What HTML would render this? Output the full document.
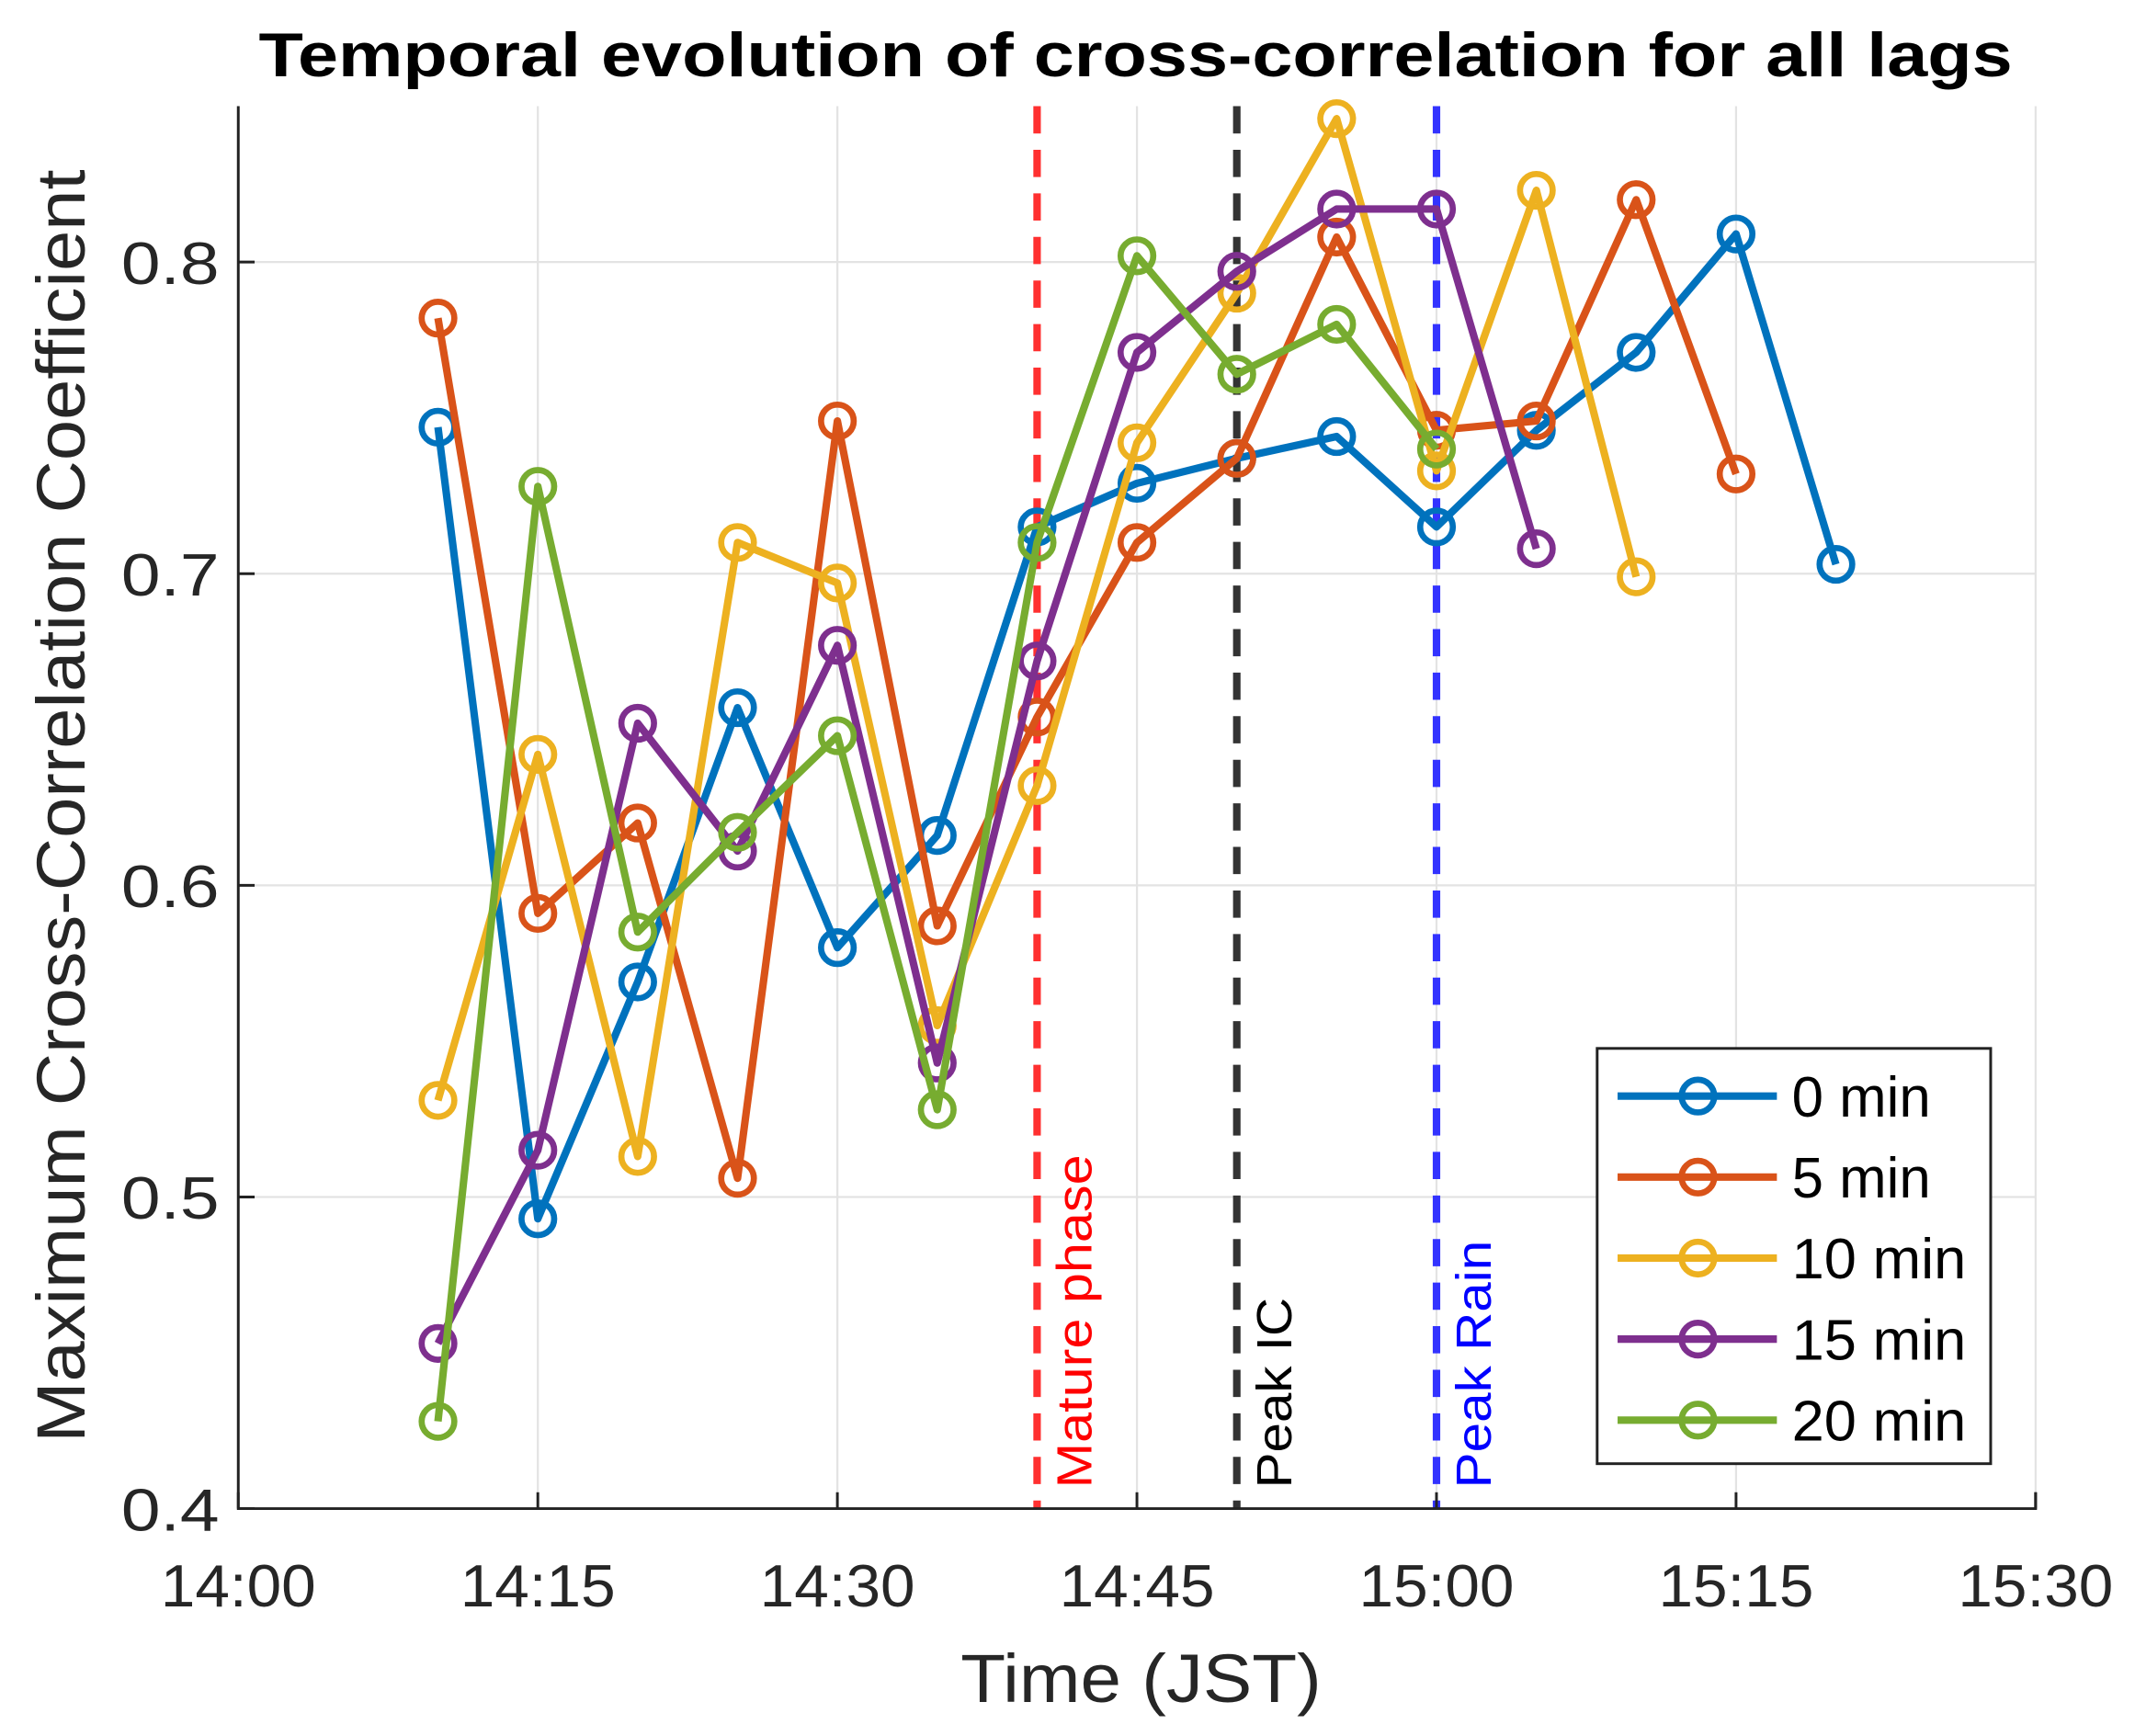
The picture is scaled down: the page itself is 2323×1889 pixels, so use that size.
<!DOCTYPE html>
<html><head><meta charset="utf-8"><style>html,body{margin:0;padding:0;background:#fff}svg{display:block}</style></head>
<body>
<svg id="chart" width="2323" height="1889" viewBox="0 0 1568 1275" preserveAspectRatio="none" xmlns="http://www.w3.org/2000/svg" font-family="Liberation Sans, Arial, sans-serif">
<g id="grid"></g><g id="vlines"></g><g id="series"></g><g id="axes"></g><g id="legend"></g>
</svg>
<script>
const times = [10,15,20,25,30,35,40,45,50,55,60,65,70,75,80];
const seriesNames = ["0 min","5 min","10 min","15 min","20 min"];
const lag0 = [0.747,0.493,0.569,0.657,0.580,0.616,0.715,0.729,0.737,0.744,0.715,0.746,0.771,0.809,0.703];
const lag5 = [0.782,0.591,0.620,0.506,0.749,0.587,0.654,0.710,0.737,0.808,0.746,0.749,0.820,0.732];
const lag10 = [0.531,0.642,0.513,0.710,0.697,0.555,0.632,0.742,0.790,0.846,0.733,0.823,0.699];
const lag15 = [0.453,0.515,0.652,0.611,0.677,0.543,0.672,0.771,0.797,0.817,0.817,0.708];
const lag20 = [0.428,0.728,0.585,0.617,0.648,0.528,0.710,0.802,0.764,0.780,0.740];
const colors = ["#0072BD","#D95319","#EDB120","#7E2F8E","#77AC30"];
const xTickVals = [0,15,30,45,60,75,90];
const xTickLabels = ["14:00","14:15","14:30","14:45","15:00","15:15","15:30"];
const yTickVals = [0.4,0.5,0.6,0.7,0.8];
const yTickLabels = ["0.4","0.5","0.6","0.7","0.8"];
const eventTimes = [40,50,60];
const eventLabels = ["Mature phase","Peak IC","Peak Rain"];
const eventColors = ["#ff3030","#333333","#3333ff"];
const eventTextColors = ["#ff0000","#000000","#0000ff"];

const NS="http://www.w3.org/2000/svg";
const L=175,R=1495,T=78,B=1108;
const X=m=>L+(m/90)*(R-L);
const Y=v=>B-(v-0.4)/0.45*(B-T);
function mk(tag,attrs,parent,text){const e=document.createElementNS(NS,tag);for(const k in attrs)e.setAttribute(k,attrs[k]);if(text!==undefined)e.textContent=text;parent.appendChild(e);return e;}
const grid=document.getElementById('grid'),axes=document.getElementById('axes'),vl=document.getElementById('vlines'),sg=document.getElementById('series'),lg=document.getElementById('legend');

xTickVals.forEach((t,i)=>{
 const g=mk('line',{x1:X(t),x2:X(t),y1:T,y2:B,stroke:'#e3e3e3','stroke-width':1.5},grid);
 
 
 const tk=mk('line',{x1:X(t),x2:X(t),y1:B,y2:B-12,stroke:'#222','stroke-width':2},axes);
 
 
 const lb=mk('text',{x:X(t),y:B+72,'text-anchor':'middle','font-size':44,fill:'#262626',textLength:114,lengthAdjust:'spacingAndGlyphs'},axes,xTickLabels[i]);
 
 
});
yTickVals.forEach((v,i)=>{
 const g=mk('line',{x1:L,x2:R,y1:Y(v),y2:Y(v),stroke:'#e3e3e3','stroke-width':1.5},grid);
 
 
 const tk=mk('line',{x1:L,x2:L+12,y1:Y(v),y2:Y(v),stroke:'#222','stroke-width':2},axes);
 
 
 const lb=mk('text',{x:L-14,y:Y(v)+16,'text-anchor':'end','font-size':44,fill:'#262626',textLength:72,lengthAdjust:'spacingAndGlyphs'},axes,yTickLabels[i]);
 
 
});
const ax=mk('path',{d:`M${L},${T} L${L},${B} L${R},${B} L${R},${B-12}`,fill:'none',stroke:'#222','stroke-width':2},axes);


const ti=mk('text',{x:834,y:56,'text-anchor':'middle','font-size':46,'font-weight':'bold',fill:'#000',textLength:1288,lengthAdjust:'spacingAndGlyphs'},axes,'Temporal evolution of cross-correlation for all lags');


const xt=mk('text',{x:838,y:1250,'text-anchor':'middle','font-size':50,fill:'#262626',textLength:265,lengthAdjust:'spacingAndGlyphs'},axes,'Time (JST)');


const yt=mk('text',{x:0,y:0,'text-anchor':'middle','font-size':50,fill:'#262626',textLength:935,lengthAdjust:'spacingAndGlyphs',transform:'translate(62,592) rotate(-90)'},axes,'Maximum Cross-Correlation Coefficient');



const evLens=[245,140,182];
eventTimes.forEach((t,i)=>{
 const l=mk('line',{x1:X(t),x2:X(t),y1:T,y2:B,stroke:eventColors[i],'stroke-width':5.5,'stroke-dasharray':'20,12'},vl);
 
 
 const tx=mk('text',{x:0,y:0,'font-size':36,fill:eventTextColors[i],textLength:evLens[i],lengthAdjust:'spacingAndGlyphs',transform:`translate(${X(t)+40},${B-15}) rotate(-90)`},vl,eventLabels[i]);
 
 
});

const all=[lag0,lag5,lag10,lag15,lag20];
all.forEach((vals,s)=>{
 const pts=vals.map((v,i)=>X(times[i])+','+Y(v)).join(' ');
 const pl=mk('polyline',{points:pts,fill:'none',stroke:colors[s],'stroke-width':5.5,'stroke-linejoin':'round'},sg);
 
 
 vals.forEach((v,i)=>{
  const c=mk('circle',{cx:X(times[i]),cy:Y(v),r:12,fill:'none',stroke:colors[s],'stroke-width':4.5},sg);
  
  
 });
});

const box=mk('rect',{x:1173,y:770,width:289,height:305,fill:'#fff',stroke:'#222','stroke-width':2},lg);


seriesNames.forEach((n,s)=>{
 const y=805+s*59.5;
 const l=mk('line',{x1:1188,x2:1305,y1:y,y2:y,stroke:colors[s],'stroke-width':5.5},lg);
 
 
 const c=mk('circle',{cx:1247,cy:y,r:12,fill:'none',stroke:colors[s],'stroke-width':4.5},lg);
 
 
 const t=mk('text',{x:1316,y:y+15,'font-size':42,fill:'#000',textLength:(n.length===5?102:128),lengthAdjust:'spacingAndGlyphs'},lg,n);
 
 
});
</script>
</body></html>
